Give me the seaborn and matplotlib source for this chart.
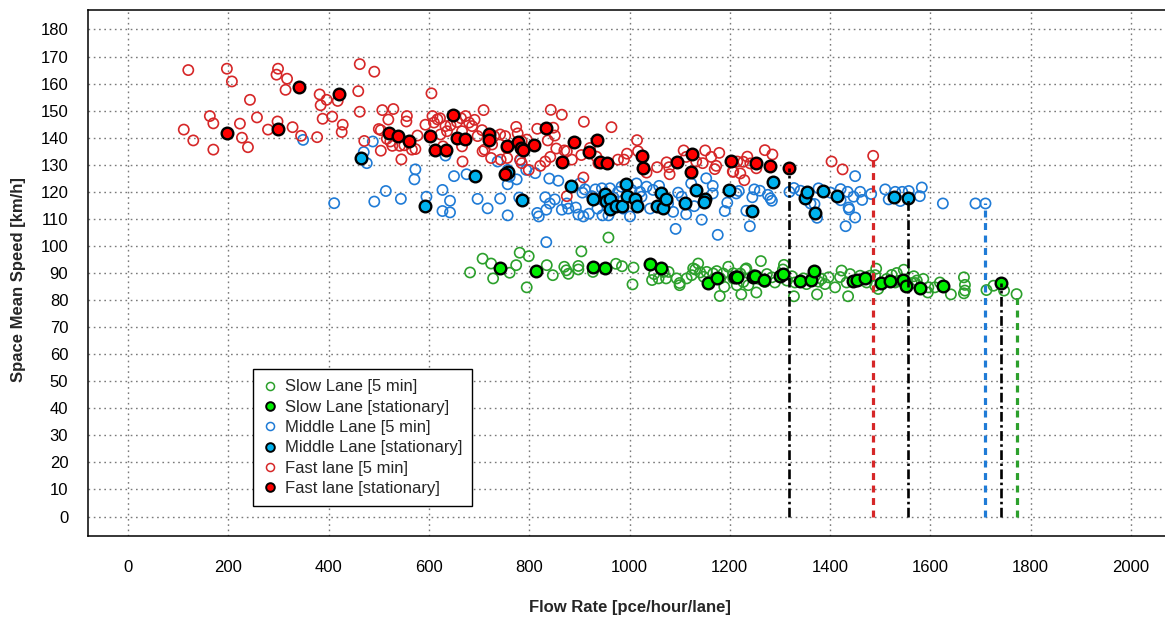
import numpy as np
import pandas as pd
import matplotlib
matplotlib.use("Agg")
import matplotlib.pyplot as plt
from matplotlib.lines import Line2D
import seaborn as sns

# ---------------- data (flow [pce/h/lane], speed [km/h]) ----------------
slow_5min = [
    (682, 90.2), (707, 95.3), (724, 93.5), (728, 88.0), (761, 90.1), (774, 92.9), (781, 97.5),
    (799, 96.2), (795, 84.7), (835, 92.9), (847, 89.2), (870, 92.3), (874, 91.0), (878, 89.7),
    (898, 92.6), (898, 91.3), (904, 98.0), (927, 90.4), (958, 103.1), (973, 93.4), (985, 92.5),
    (1008, 92.0), (1006, 85.8), (1045, 87.4), (1049, 89.6), (1058, 88.0), (1068, 90.4),
    (1073, 88.0), (1078, 90.4), (1094, 88.0), (1100, 85.5), (1114, 88.0), (1124, 89.2),
    (1127, 91.7), (1137, 93.5), (1141, 90.2), (1100, 86.3), (1131, 91.3), (1148, 88.6),
    (1154, 90.4), (1161, 86.7), (1167, 89.8), (1174, 90.7), (1180, 81.5), (1181, 88.0),
    (1187, 89.8), (1189, 84.9), (1197, 92.3), (1207, 88.0), (1207, 89.9), (1214, 85.5),
    (1221, 89.8), (1223, 82.1), (1227, 86.7), (1231, 91.3), (1233, 91.7), (1237, 85.5),
    (1247, 89.2), (1253, 82.8), (1254, 88.0), (1260, 87.8), (1262, 94.4), (1270, 86.7),
    (1274, 89.6), (1284, 88.4), (1290, 86.5), (1306, 91.3), (1308, 93.0), (1314, 87.2),
    (1324, 88.8), (1328, 81.4), (1330, 86.5), (1347, 88.0), (1353, 85.9), (1370, 89.0),
    (1374, 82.1), (1377, 86.8), (1383, 87.8), (1390, 85.9), (1397, 88.4), (1410, 84.7),
    (1420, 88.5), (1423, 90.9), (1433, 86.5), (1436, 81.4), (1440, 89.6), (1460, 89.0),
    (1473, 86.5), (1480, 89.0), (1490, 85.3), (1490, 89.2), (1492, 91.6), (1496, 84.1),
    (1513, 87.8), (1523, 89.3), (1530, 86.5), (1533, 90.0), (1535, 87.0), (1540, 87.2),
    (1547, 91.2), (1563, 86.3), (1567, 88.8), (1570, 86.3), (1573, 87.2), (1586, 87.8),
    (1595, 82.8), (1596, 84.7), (1609, 84.7), (1619, 86.5), (1641, 82.1), (1667, 88.4),
    (1669, 85.6), (1669, 83.5), (1667, 82.5), (1712, 83.7), (1726, 85.3), (1747, 83.5),
    (1772, 82.2),
]
slow_stat = [
    (742, 91.7), (813, 90.8), (927, 92.3), (952, 91.9), (1040, 93.5), (1063, 92.0),
    (1157, 86.4), (1174, 88.0), (1211, 88.6), (1215, 88.6), (1247, 88.6), (1250, 89.0),
    (1268, 87.5), (1300, 89.0), (1307, 89.5), (1340, 87.2), (1361, 87.5), (1367, 90.9),
    (1445, 87.2), (1453, 87.5), (1470, 88.0), (1502, 86.3), (1520, 87.2), (1545, 87.5),
    (1551, 85.1), (1579, 84.4), (1625, 85.3), (1740, 86.2),
]
middle_5min = [
    (349, 139.2), (411, 115.8), (470, 134.7), (476, 130.6), (488, 138.6), (491, 116.4),
    (514, 120.3), (544, 117.4), (571, 124.6), (573, 128.3), (595, 118.2), (627, 120.7),
    (627, 112.9), (633, 133.4), (642, 116.7), (642, 112.4), (650, 125.8), (675, 126.5),
    (697, 117.4), (717, 113.9), (737, 131.2), (742, 117.5), (757, 128.1), (757, 122.8),
    (757, 111.3), (761, 125.6), (775, 124.6), (780, 117.9), (782, 131.6), (794, 128.1),
    (812, 126.9), (816, 112.2), (819, 110.9), (832, 118.0), (834, 101.4), (834, 113.4),
    (840, 124.9), (841, 115.7), (851, 117.2), (858, 124.1), (865, 113.4), (875, 115.7),
    (878, 113.8), (893, 114.2), (898, 111.6), (901, 123.1), (906, 119.7), (908, 110.9),
    (911, 120.9), (919, 111.9), (925, 118.4), (932, 120.9), (936, 113.8), (945, 121.3),
    (946, 111.3), (958, 111.3), (961, 121.3), (968, 117.9), (977, 120.0), (984, 121.9),
    (987, 113.8), (1001, 110.9), (1004, 120.7), (1014, 123.1), (1021, 120.0), (1024, 118.2),
    (1034, 121.9), (1041, 113.8), (1047, 120.7), (1059, 122.2), (1077, 115.7), (1087, 112.6),
    (1092, 106.3), (1097, 119.7), (1104, 118.2), (1113, 111.7), (1123, 123.1), (1129, 114.7),
    (1144, 109.7), (1153, 125.0), (1166, 122.2), (1166, 119.4), (1176, 104.1), (1190, 112.9),
    (1195, 116.0), (1213, 119.4), (1218, 120.3), (1233, 113.0), (1240, 107.3), (1245, 118.0),
    (1249, 120.9), (1260, 120.4), (1276, 118.9), (1281, 117.6), (1284, 116.7), (1319, 120.0),
    (1328, 121.4), (1341, 120.4), (1361, 115.7), (1369, 115.5), (1374, 110.4), (1377, 121.3),
    (1401, 119.7), (1421, 121.0), (1421, 116.9), (1431, 107.3), (1435, 120.0), (1437, 114.2),
    (1438, 113.5), (1447, 118.2), (1450, 125.8), (1450, 110.5), (1460, 120.0), (1464, 117.0),
    (1482, 119.2), (1510, 120.9), (1517, 117.2), (1530, 120.0), (1540, 116.6), (1544, 120.0),
    (1557, 120.3), (1579, 118.4), (1583, 121.6), (1625, 115.7), (1690, 115.7), (1710, 115.7),
]
middle_stat = [
    (465, 132.6), (593, 114.7), (692, 125.9), (757, 127.3), (786, 116.9), (883, 122.2),
    (928, 117.2), (951, 119.2), (953, 116.7), (962, 117.5), (962, 113.8), (974, 114.9),
    (986, 114.9), (993, 122.9), (995, 118.4), (1011, 117.2), (1015, 114.9), (1054, 114.9),
    (1062, 119.4), (1067, 114.2), (1072, 117.2), (1111, 115.9), (1133, 120.7), (1150, 117.2),
    (1148, 116.2), (1199, 120.6), (1245, 113.0), (1286, 123.8), (1351, 117.8), (1355, 120.0),
    (1369, 112.0), (1386, 120.3), (1413, 118.4), (1528, 118.2), (1555, 117.8),
]
fast_5min = [
    (111, 143.0), (120, 165.0), (130, 139.0), (163, 148.0), (170, 145.3), (170, 135.6),
    (197, 165.5), (207, 160.8), (223, 145.2), (227, 140.0), (239, 136.5), (243, 154.0),
    (257, 147.5), (279, 143.0), (296, 163.3), (298, 146.0), (299, 165.5), (314, 157.7),
    (317, 161.8), (328, 143.9), (345, 140.7), (377, 140.2), (382, 156.0), (384, 152.0),
    (388, 147.0), (396, 154.0), (407, 147.8), (418, 153.6), (426, 142.1), (428, 144.8),
    (459, 157.2), (462, 167.2), (462, 149.6), (471, 138.8), (491, 164.4), (500, 143.2),
    (504, 142.8), (504, 135.2), (507, 150.2), (516, 139.6), (519, 146.7), (523, 138.6),
    (527, 137.0), (529, 150.6), (542, 137.0), (545, 132.0), (551, 137.2), (555, 146.0),
    (556, 148.0), (566, 135.6), (573, 135.8), (577, 140.8), (593, 144.8), (605, 156.4),
    (607, 148.0), (610, 145.6), (617, 146.8), (622, 147.2), (623, 141.2), (628, 136.8),
    (633, 144.3), (636, 142.4), (643, 144.6), (656, 145.8), (664, 147.2), (666, 142.4),
    (666, 136.8), (667, 131.2), (673, 148.0), (680, 145.6), (686, 144.3), (691, 146.6),
    (697, 140.6), (706, 142.8), (707, 135.0), (709, 150.2), (711, 135.6), (724, 132.5),
    (726, 137.5), (730, 140.6), (742, 141.2), (743, 131.9), (752, 140.6), (756, 132.5),
    (755, 136.2), (774, 144.0), (777, 141.6), (785, 138.7), (795, 139.3), (782, 131.9),
    (799, 128.1), (785, 130.6), (816, 143.3), (822, 129.6), (832, 131.2), (837, 139.0),
    (842, 132.9), (843, 150.3), (848, 143.7), (851, 140.8), (854, 136.0), (865, 148.5),
    (870, 135.3), (875, 135.0), (875, 118.4), (885, 131.9), (904, 133.6), (908, 125.3),
    (909, 145.9), (921, 136.2), (934, 133.0), (938, 130.6), (964, 143.9), (977, 131.9),
    (989, 131.9), (995, 134.1), (1015, 139.1), (1017, 135.0), (1026, 133.2), (1034, 127.1),
    (1055, 129.1), (1074, 130.9), (1079, 129.1), (1080, 126.5), (1108, 135.3), (1113, 132.9),
    (1133, 131.2), (1146, 130.6), (1151, 135.3), (1163, 132.9), (1170, 128.4), (1173, 129.6),
    (1179, 134.4), (1206, 127.5), (1207, 127.4), (1215, 131.2), (1221, 126.8), (1227, 131.1),
    (1229, 124.3), (1235, 133.0), (1241, 130.5), (1253, 128.7), (1270, 135.4), (1285, 133.8),
    (1403, 131.2), (1425, 128.3), (1486, 133.3),
]
fast_stat = [
    (197, 141.9), (298, 143.4), (340, 158.6), (421, 156.0), (521, 141.9), (539, 140.7),
    (561, 138.8), (603, 140.6), (613, 135.3), (635, 135.3), (648, 148.3), (655, 140.0),
    (672, 139.6), (719, 141.2), (719, 139.1), (752, 126.6), (756, 137.1), (777, 138.3),
    (783, 136.3), (787, 135.3), (809, 137.2), (834, 143.7), (865, 131.2), (890, 138.3),
    (919, 134.8), (936, 139.3), (942, 131.1), (956, 130.6), (1024, 133.1), (1026, 128.8),
    (1094, 131.2), (1124, 133.9), (1123, 127.3), (1202, 131.3), (1252, 130.8), (1281, 129.4),
    (1318, 128.7),
]

legend_labels = ["Slow Lane [5 min]", "Slow Lane [stationary]",
                 "Middle Lane [5 min]", "Middle Lane [stationary]",
                 "Fast lane [5 min]", "Fast lane [stationary]"]
x_ticks = list(range(0, 2001, 200))
y_ticks = list(range(0, 181, 10))

# ---------------- style ----------------
sns.set_style("white")
plt.rcParams['font.family'] = ['Liberation Sans', 'DejaVu Sans']
plt.rcParams['lines.scale_dashes'] = False

c_slow, c_mid, c_fast = '#2ca02c', '#1f7bd6', '#d62728'
f_slow, f_mid, f_fast = '#00ee00', '#00b2ee', '#ff0000'

fig = plt.figure(figsize=(11.65, 6.19), dpi=100)
ax = fig.add_axes([88 / 1165, 83 / 619, 1083 / 1165, 526 / 619])


def unzip(pairs):
    a = np.array(pairs, dtype=float)
    return a[:, 0], a[:, 1]


series = [
    (slow_5min, c_slow, None), (slow_stat, None, f_slow),
    (middle_5min, c_mid, None), (middle_stat, None, f_mid),
    (fast_5min, c_fast, None), (fast_stat, None, f_fast),
]

for pairs, edge, fill in series:
    fx, fy = unzip(pairs)
    df = pd.DataFrame({"flow": fx, "speed": fy})
    if fill is None:
        sns.scatterplot(data=df, x="flow", y="speed", ax=ax, marker='o', s=54,
                        facecolor='none', edgecolor=edge, linewidth=1.2,
                        legend=False, zorder=3)
    else:
        sns.scatterplot(data=df, x="flow", y="speed", ax=ax, marker='o', s=70,
                        facecolor=fill, edgecolor='black', linewidth=1.7,
                        legend=False, zorder=4)

# capacity lines (drop lines from the maximum-flow observation of each series)
for pairs, edge, fill in series:
    fx, fy = unzip(pairs)
    i = int(np.argmax(fx))
    if fill is None:
        ax.plot([fx[i], fx[i]], [0, fy[i]], color=edge, lw=2.3,
                dashes=(5, 4), zorder=5, solid_capstyle='butt')
    else:
        ax.plot([fx[i], fx[i]], [0, fy[i]], color='black', lw=1.9,
                dashes=(7, 2.5, 1.8, 2.5), zorder=5)

ax.set_xlim(-80, 2080)
ax.set_ylim(-7.2, 187.2)
ax.set_xticks(x_ticks)
ax.set_yticks(y_ticks)
ax.set_xticklabels([str(v) for v in x_ticks])
ax.set_yticklabels([str(v) for v in y_ticks])
ax.set_axisbelow(True)
ax.grid(True, color='#7a7a7a', linestyle=(0, (1.2, 2.6)), linewidth=1.0)

for s in ax.spines.values():
    s.set_color('black')
    s.set_linewidth(1.1)

ax.tick_params(axis='both', which='major', direction='out', length=7.2, width=1.1,
               color='black', labelsize=12, labelcolor='black')
ax.tick_params(axis='x', pad=10)
ax.tick_params(axis='y', pad=7)

ax.set_xlabel("Flow Rate [pce/hour/lane]", fontsize=12, fontweight='bold')
ax.set_ylabel("Space Mean Speed [km/h]", fontsize=12, fontweight='bold')
ax.xaxis.set_label_coords(0.5, -0.122)
ax.yaxis.set_label_coords(-0.0575, 0.488)

handles = [
    Line2D([], [], ls='none', marker='o', ms=5.8, mfc='none', mec=c_slow, mew=1.1),
    Line2D([], [], ls='none', marker='o', ms=6.2, mfc=f_slow, mec='black', mew=1.4),
    Line2D([], [], ls='none', marker='o', ms=5.8, mfc='none', mec=c_mid, mew=1.1),
    Line2D([], [], ls='none', marker='o', ms=6.2, mfc=f_mid, mec='black', mew=1.4),
    Line2D([], [], ls='none', marker='o', ms=5.8, mfc='none', mec=c_fast, mew=1.1),
    Line2D([], [], ls='none', marker='o', ms=6.2, mfc=f_fast, mec='black', mew=1.4),
]
leg = ax.legend(handles, legend_labels, loc='lower left',
                bbox_to_anchor=((253 - 88) / 1083, (536 - 506) / 526),
                borderaxespad=0, fontsize=12, frameon=True, fancybox=False,
                framealpha=1, edgecolor='black', borderpad=0.6,
                handlelength=0.8, handletextpad=0.5, labelspacing=0.32)
leg.get_frame().set_linewidth(1.0)
leg.set_zorder(10)

fig.savefig("out.png", dpi=100, facecolor='white')
